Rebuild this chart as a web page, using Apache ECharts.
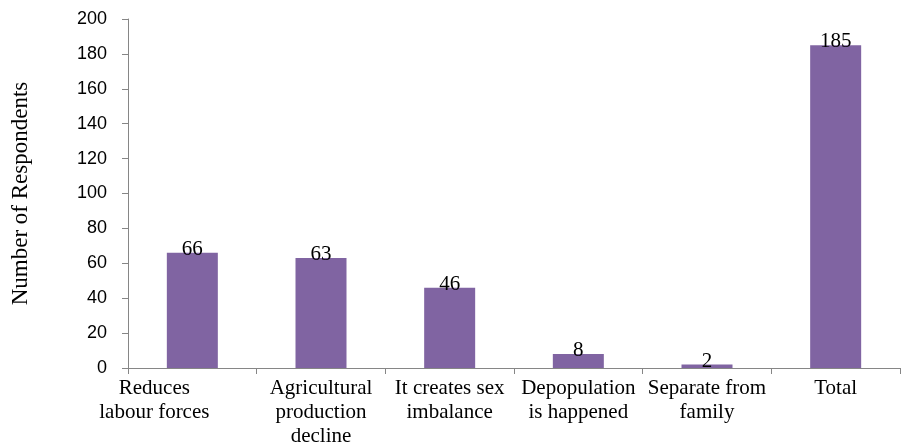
<!DOCTYPE html>
<html>
<head>
<meta charset="utf-8">
<style>
  html, body { margin: 0; padding: 0; background: #ffffff; }
  #chart { width: 903px; height: 448px; }
</style>
<script src="https://cdn.jsdelivr.net/npm/echarts@6/dist/echarts.min.js"></script>
</head>
<body>
<div id="chart"></div>
<script>
// Perceived effects of migration on the community
const categories = [
  'Reduces\nlabour forces',
  'Agricultural\nproduction\ndecline',
  'It creates sex\nimbalance',
  'Depopulation\nis happened',
  'Separate from\nfamily',
  'Total'
];
const respondents = [66, 63, 46, 8, 2, 185];
const yTicks = { min: 0, max: 200, interval: 20 };
const yTitle = 'Number of Respondents';

const serif = '"Liberation Serif", "Times New Roman", serif';
const sans = '"Liberation Sans", Arial, sans-serif';
const axisGrey = '#868686';

const chart = echarts.init(document.getElementById('chart'), null, { renderer: 'canvas' });

chart.setOption({
  animation: false,
  grid: { left: 128, right: 3, top: 19, bottom: 80, containLabel: false },
  xAxis: {
    type: 'category',
    data: categories.map((c, i) => i === 0
      ? { value: c, textStyle: { padding: [0, 76, 0, 0] } }
      : c),
    axisLine: { lineStyle: { color: axisGrey, width: 1 } },
    axisTick: { show: true, length: 6, alignWithLabel: false, lineStyle: { color: axisGrey } },
    axisLabel: {
      interval: 0,
      margin: 8,
      color: '#000',
      fontFamily: serif,
      fontSize: 21,
      lineHeight: 24
    },
    splitLine: { show: false }
  },
  yAxis: {
    type: 'value',
    min: yTicks.min,
    max: yTicks.max,
    interval: yTicks.interval,
    name: yTitle,
    nameLocation: 'middle',
    nameRotate: 90,
    nameGap: 96,
    nameTextStyle: { color: '#000', fontFamily: serif, fontSize: 23 },
    axisLine: { show: true, lineStyle: { color: axisGrey, width: 1 } },
    axisTick: { show: true, length: 6, lineStyle: { color: axisGrey } },
    axisLabel: { margin: 21, color: '#000', fontFamily: sans, fontSize: 18 },
    splitLine: { show: false }
  },
  series: [{
    type: 'bar',
    data: respondents,
    barWidth: 51,
    itemStyle: { color: '#8064A2' },
    label: {
      show: true,
      position: 'top',
      distance: -7,
      color: '#000',
      fontFamily: serif,
      fontSize: 21
    }
  }]
});
</script>
</body>
</html>
